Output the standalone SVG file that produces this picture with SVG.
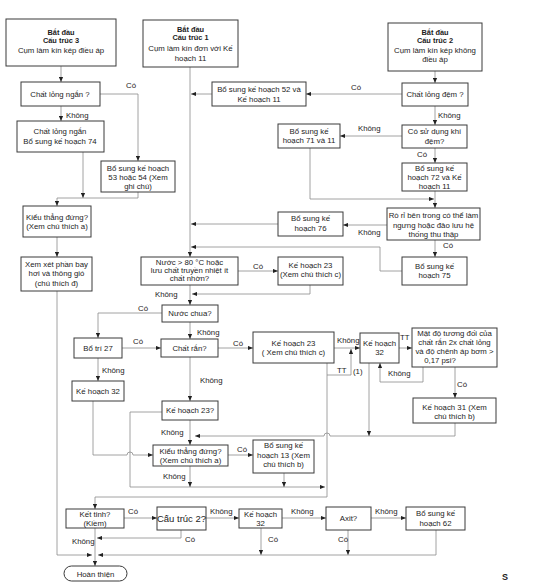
<svg xmlns="http://www.w3.org/2000/svg" width="555" height="588" viewBox="0 0 555 588">
<defs>
<style>
.bx{fill:#fff;stroke:#3a3a3a;stroke-width:1}
.t{font-family:"Liberation Sans",Arial,sans-serif;font-size:7.8px;fill:#1c1c1c;text-anchor:middle}
.tb{font-weight:bold;font-size:7.4px}
.l{font-family:"Liberation Sans",Arial,sans-serif;font-size:7.8px;fill:#1c1c1c}
.c{fill:none;stroke:#8c8c8c;stroke-width:0.8}
.a{marker-end:url(#ah)}
</style>
<marker id="ah" viewBox="0 0 6 6" refX="6" refY="3" markerWidth="5" markerHeight="5" orient="auto" markerUnits="userSpaceOnUse"><path d="M0,0.5 L6,3 L0,5.5 z" fill="#222"/></marker>
</defs>
<rect width="555" height="588" fill="#fff"/>

<g id="connectors">
<path class="c a" d="M61,66 V82"/>
<path class="c a" d="M100,94 H138 V161"/>
<path class="c a" d="M61,106 V121"/>
<path class="c a" d="M83,152 V198"/>
<path class="c a" d="M138,192 V198 H57 V206"/>
<path class="c a" d="M57,237 V257"/>
<path class="c a" d="M57,291 V555 H92"/>
<path class="c a" d="M190,67 V257"/>
<path class="c a" d="M212,94 H191"/>
<path class="c a" d="M402,94 H306"/>
<path class="c a" d="M435,71 V83"/>
<path class="c a" d="M435,106 V125"/>
<path class="c a" d="M402,136 H340"/>
<path class="c a" d="M435,148 V163"/>
<path class="c a" d="M310,148 V199 H434"/>
<path class="c a" d="M435,191 V208"/>
<path class="c a" d="M387,225 H343"/>
<path class="c a" d="M435,240 V257"/>
<path class="c a" d="M278,224 H191"/>
<path class="c a" d="M402,271 H380 V247 H191"/>
<path class="c a" d="M238,271 H278"/>
<path class="c a" d="M310,283 V294 H192"/>
<path class="c a" d="M190,285 V305"/>
<path class="c a" d="M162,313 H98 V338"/>
<path class="c a" d="M190,322 V339"/>
<path class="c a" d="M122,348 H161"/>
<path class="c a" d="M218,348 H253"/>
<path class="c a" d="M98,358 V381"/>
<path class="c a" d="M190,357 V401"/>
<path class="c a" d="M334,348 H360"/>
<path class="c a" d="M327,375 H351 V349"/>
<path class="c a" d="M327,363 V497 H95 V509"/>
<path class="c a" d="M399,348 H412"/>
<path class="c a" d="M423,367 V382 H380 V363"/>
<path class="c a" d="M455,367 V398"/>
<path class="c a" d="M455,423 V436 H330 A3,3 0 0 0 324,436 H195"/>
<path class="c a" d="M369,363 V436"/>
<path class="c a" d="M162,412 H130 V487 H325"/>
<path class="c a" d="M93,401 V455 H127 A3,3 0 0 1 133,455 H153"/>
<path class="c a" d="M190,420 V445"/>
<path class="c a" d="M228,455 H253"/>
<path class="c a" d="M190,466 V487"/>
<path class="c a" d="M284,473 V487"/>
<path class="c a" d="M124,518 H157"/>
<path class="c a" d="M206,518 H239"/>
<path class="c a" d="M282,518 H326"/>
<path class="c a" d="M371,518 H406"/>
<path class="c a" d="M181,530 V538 H97"/>
<path class="c a" d="M95,528 V566"/>
<path class="c a" d="M261,528 V555"/>
<path class="c a" d="M348,530 V555"/>
<path class="c a" d="M436,530 V555 H98"/>
</g>

<g id="labels">
<text class="l" x="126" y="88">Có</text>
<text class="l" x="66" y="118">Không</text>
<text class="l" x="351" y="90">Có</text>
<text class="l" x="438" y="118">Không</text>
<text class="l" x="358" y="131">Không</text>
<text class="l" x="417" y="157">Có</text>
<text class="l" x="358" y="235">Không</text>
<text class="l" x="443" y="248">Có</text>
<text class="l" x="253" y="269">Có</text>
<text class="l" x="155" y="297">Không</text>
<text class="l" x="138" y="311">Có</text>
<text class="l" x="197" y="335">Không</text>
<text class="l" x="133" y="344">Có</text>
<text class="l" x="233" y="346">Có</text>
<text class="l" x="102" y="373">Không</text>
<text class="l" x="200" y="383">Không</text>
<text class="l" x="337" y="343">Không</text>
<text class="l" x="337" y="373">TT</text>
<text class="l" x="353" y="374">(1)</text>
<text class="l" x="400" y="340">TT</text>
<text class="l" x="388" y="376">Không</text>
<text class="l" x="457" y="387">Có</text>
<text class="l" x="161" y="435">Không</text>
<text class="l" x="237" y="452">Có</text>
<text class="l" x="163" y="479">Không</text>
<text class="l" x="128" y="514">Có</text>
<text class="l" x="210" y="514">Không</text>
<text class="l" x="291" y="514">Không</text>
<text class="l" x="375" y="514">Không</text>
<text class="l" x="185" y="542">Có</text>
<text class="l" x="72" y="544">Không</text>
<text class="l" x="268" y="542">Có</text>
<text class="l" x="338" y="542">Có</text>
</g>

<g id="ct3"><rect class="bx" x="6" y="19" width="110" height="47"/>
<text class="t tb" x="61" y="34.5">Bắt đầu</text><text class="t tb" x="61" y="43">Cấu trúc 3</text><text class="t" x="61" y="53">Cụm làm kín kép điều áp</text></g>
<g id="n_chatlongngan"><rect class="bx" x="21" y="82" width="79" height="24"/><text class="t" x="60" y="97">Chất lỏng ngắn ?</text></g>
<g id="n_kh74"><rect class="bx" x="17" y="121" width="87" height="31"/><text class="t" x="60" y="134">Chất lỏng ngắn</text><text class="t" x="60" y="144">Bổ sung kế hoạch 74</text></g>
<g id="n_kh5354"><rect class="bx" x="101" y="161" width="74" height="31"/><text class="t" x="138" y="171">Bổ sung kế hoạch</text><text class="t" x="138" y="180">53 hoặc  54 (Xem</text><text class="t" x="138" y="189">ghi chú)</text></g>
<g id="n_kieu1"><rect class="bx" x="23" y="206" width="68" height="31"/><text class="t" x="57" y="220">Kiểu thẳng đứng?</text><text class="t" x="57" y="229">(Xem chú thích a)</text></g>
<g id="n_xemxet"><rect class="bx" x="21" y="257" width="71" height="34"/><text class="t" x="56.5" y="267">Xem xét phần bay</text><text class="t" x="56.5" y="276">hơi và thông gió</text><text class="t" x="56.5" y="286">(chú thích đ)</text></g>

<g id="ct1"><rect class="bx" x="143" y="20" width="95" height="47"/>
<text class="t tb" x="190.5" y="31.5">Bắt đầu</text><text class="t tb" x="190.5" y="40">Cấu trúc 1</text><text class="t" x="190.5" y="51">Cụm làm kín đơn với Kế</text><text class="t" x="190.5" y="61">hoạch 11</text></g>
<g id="ct2"><rect class="bx" x="388" y="23" width="94" height="48"/>
<text class="t tb" x="435" y="34.5">Bắt đầu</text><text class="t tb" x="435" y="43">Cấu trúc 2</text><text class="t" x="435" y="53">Cụm làm kín kép không</text><text class="t" x="435" y="62">điều áp</text></g>
<g id="n_kh52"><rect class="bx" x="212" y="82" width="94" height="24"/><text class="t" x="259" y="92">Bổ sung kế hoạch 52 và</text><text class="t" x="259" y="102">Kế hoạch 11</text></g>
<g id="n_chatlongdem"><rect class="bx" x="402" y="83" width="66" height="23"/><text class="t" x="435" y="97">Chất lỏng đệm ?</text></g>
<g id="n_kh71"><rect class="bx" x="278" y="124" width="62" height="24"/><text class="t" x="309" y="134">Bổ sung kế</text><text class="t" x="309" y="143">hoạch 71 và 11</text></g>
<g id="n_khidem"><rect class="bx" x="402" y="125" width="65" height="23"/><text class="t" x="434.5" y="134">Có sử dụng khí</text><text class="t" x="434.5" y="144">đệm?</text></g>
<g id="n_kh72"><rect class="bx" x="402" y="163" width="65" height="28"/><text class="t" x="434.5" y="171">Bổ sung kế</text><text class="t" x="434.5" y="180">hoạch 72 và Kế</text><text class="t" x="434.5" y="189">hoạch  11</text></g>
<g id="n_kh76"><rect class="bx" x="278" y="212" width="65" height="24"/><text class="t" x="310.5" y="221">Bổ sung kế</text><text class="t" x="310.5" y="231">hoạch 76</text></g>
<g id="n_rori"><rect class="bx" x="387" y="208" width="93" height="32"/><text class="t" x="433.5" y="218">Rò rỉ bên trong có thể làm</text><text class="t" x="433.5" y="228">ngưng hoặc đảo lưu hệ</text><text class="t" x="433.5" y="237">thống thu thập</text></g>
<g id="n_kh75"><rect class="bx" x="402" y="257" width="65" height="28"/><text class="t" x="434.5" y="269">Bổ sung kế</text><text class="t" x="434.5" y="278">hoạch 75</text></g>
<g id="n_nuoc80"><rect class="bx" x="141" y="257" width="97" height="28"/><text class="t" x="189.5" y="265">Nước &gt; 80 °C hoặc</text><text class="t" x="189.5" y="273">lưu chất truyền nhiệt ít</text><text class="t" x="189.5" y="281">chất nhờn?</text></g>
<g id="n_kh23a"><rect class="bx" x="278" y="257" width="65" height="28"/><text class="t" x="310.5" y="268">Kế hoạch 23</text><text class="t" x="310.5" y="277">(Xem chú thích c)</text></g>
<g id="n_nuocchua"><rect class="bx" x="162" y="305" width="56" height="17"/><text class="t" x="190" y="316">Nước chua?</text></g>
<g id="n_chatran"><rect class="bx" x="161" y="339" width="57" height="18"/><text class="t" x="189.5" y="351">Chất rắn?</text></g>
<g id="n_botri27"><rect class="bx" x="74" y="338" width="48" height="20"/><text class="t" x="98" y="351">Bổ trí 27</text></g>
<g id="n_kh32a"><rect class="bx" x="72" y="381" width="52" height="20"/><text class="t" x="98" y="394">Kế hoạch 32</text></g>
<g id="n_kh23b"><rect class="bx" x="253" y="332" width="81" height="31"/><text class="t" x="293.5" y="346">Kế hoạch 23</text><text class="t" x="293.5" y="355">( Xem chú thích c)</text></g>
<g id="n_kh32b"><rect class="bx" x="360" y="333" width="39" height="30"/><text class="t" x="379.5" y="346">Kế hoạch</text><text class="t" x="379.5" y="355">32</text></g>
<g id="n_matdo"><rect class="bx" x="412" y="328" width="85" height="39"/><text class="t" x="454.5" y="336">Mật độ tương đối của</text><text class="t" x="454.5" y="345">chất rắn 2x chất lỏng</text><text class="t" x="454.5" y="354">và độ chênh áp bơm  &gt;</text><text class="t" x="440" y="363">0,17  psi?</text></g>
<g id="n_kh31"><rect class="bx" x="413" y="398" width="83" height="25"/><text class="t" x="454.5" y="410">Kế hoạch 31 (Xem</text><text class="t" x="454.5" y="419">chú thích b)</text></g>
<g id="n_kh23q"><rect class="bx" x="162" y="401" width="56" height="19"/><text class="t" x="190" y="413">Kế hoạch 23?</text></g>
<g id="n_kieu2"><rect class="bx" x="153" y="445" width="75" height="21"/><text class="t" x="190.5" y="454">Kiểu thẳng đứng?</text><text class="t" x="190.5" y="463">(Xem chú thích a)</text></g>
<g id="n_kh13"><rect class="bx" x="253" y="440" width="61" height="33"/><text class="t" x="283.5" y="448">Bổ sung kế</text><text class="t" x="283.5" y="458">hoạch 13 (Xem</text><text class="t" x="283.5" y="467">chú thích b)</text></g>
<g id="n_kettinh"><rect class="bx" x="66" y="509" width="58" height="19"/><text class="t" x="95" y="517">Kết tinh?</text><text class="t" x="95" y="526">(Kiềm)</text></g>
<g id="n_ct2q"><rect class="bx" x="157" y="507" width="49" height="23"/><text class="t" x="181.5" y="522" style="font-size:9.5px">Cấu trúc 2?</text></g>
<g id="n_kh32c"><rect class="bx" x="239" y="509" width="43" height="19"/><text class="t" x="260.5" y="517">Kế hoạch</text><text class="t" x="260.5" y="526">32</text></g>
<g id="n_axit"><rect class="bx" x="326" y="507" width="45" height="23"/><text class="t" x="348.5" y="521">Axit?</text></g>
<g id="n_kh62"><rect class="bx" x="406" y="507" width="59" height="23"/><text class="t" x="435.5" y="516">Bổ sung kế</text><text class="t" x="435.5" y="526">hoạch 62</text></g>
<g id="n_hoanthien"><rect class="bx" x="64" y="566" width="63" height="15" rx="7.5"/><text class="t" x="95.5" y="576.5">Hoàn thiện</text></g>
<text x="502" y="580" style="font-family:'Liberation Sans',Arial,sans-serif;font-size:9px;font-weight:bold;fill:#1c1c1c">S</text>
</svg>
